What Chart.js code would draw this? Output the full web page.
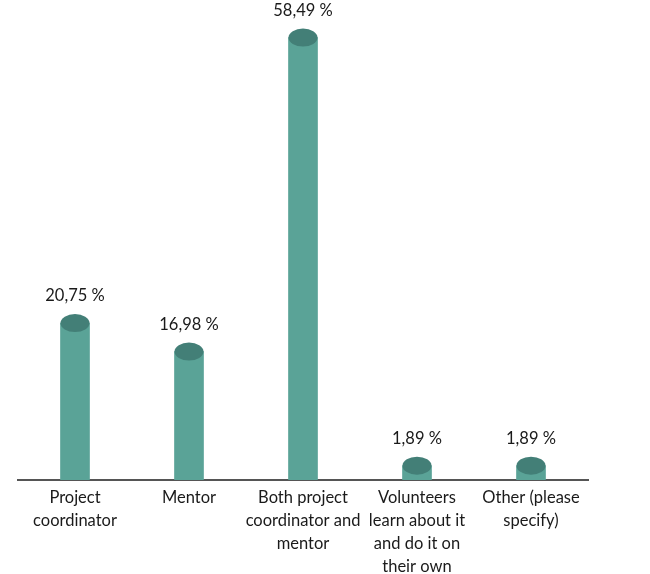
<!DOCTYPE html>
<html>
<head>
<meta charset="utf-8">
<script src="https://cdn.jsdelivr.net/npm/chart.js@4"></script>
<style>
  html, body { margin: 0; padding: 0; background: #fff; }
  #wrap { width: 650px; height: 574px; }
</style>
</head>
<body>
<div id="wrap"><canvas id="chart"></canvas></div>
<script>
// categories (multi-line tick labels)
let categories = [
    ["Project", "coordinator"],
    ["Mentor"],
    ["Both project", "coordinator and", "mentor"],
    ["Volunteers", "learn about it", "and do it on", "their own"],
    ["Other (please", "specify)"]
]
// percentages
let values = [20.75, 16.98, 58.49, 1.89, 1.89]

let barColor = "#5aa397"
let topColor = "#437f77"

// cylinder tops + value labels
const cylinderPlugin = {
    id: "cylinder",
    afterDatasetsDraw(chart) {
        const ctx = chart.ctx
        const meta = chart.getDatasetMeta(0)
        ctx.save()
        meta.data.forEach((bar, i) => {
            const w = bar.width
            ctx.beginPath()
            ctx.ellipse(bar.x, bar.y, w / 2, 9, 0, 0, Math.PI * 2)
            ctx.fillStyle = topColor
            ctx.fill()

            ctx.fillStyle = "#1a1a1a"
            ctx.font = "16.5px Lato"
            ctx.textAlign = "center"
            ctx.textBaseline = "middle"
            let txt = values[i].toFixed(2).replace(".", ",") + " %"
            ctx.fillText(txt, bar.x, bar.y - 27)
        })
        ctx.restore()
    }
}

const ctx = document.getElementById("chart").getContext("2d")

new Chart(ctx, {
    type: "bar",
    data: {
        labels: categories,
        datasets: [{
            data: values,
            backgroundColor: barColor,
            borderWidth: 0,
            barThickness: 29,
        }]
    },
    options: {
        responsive: true,
        maintainAspectRatio: false,
        animation: false,
        layout: {
            padding: { top: 11, left: 18, right: 62, bottom: 0 }
        },
        plugins: {
            legend: { display: false },
            tooltip: { enabled: false }
        },
        scales: {
            x: {
                grid: { display: false, drawTicks: false },
                border: { display: true, color: "#555", width: 2 },
                ticks: {
                    color: "#1a1a1a",
                    padding: 6,
                    maxRotation: 0,
                    autoSkip: false,
                    font: { family: "Lato", size: 16.5, lineHeight: 1.4 }
                },
                afterFit(scale) { scale.height = 94 }
            },
            y: {
                display: false,
                min: 0,
                max: 62
            }
        }
    },
    plugins: [cylinderPlugin]
})
</script>
</body>
</html>
